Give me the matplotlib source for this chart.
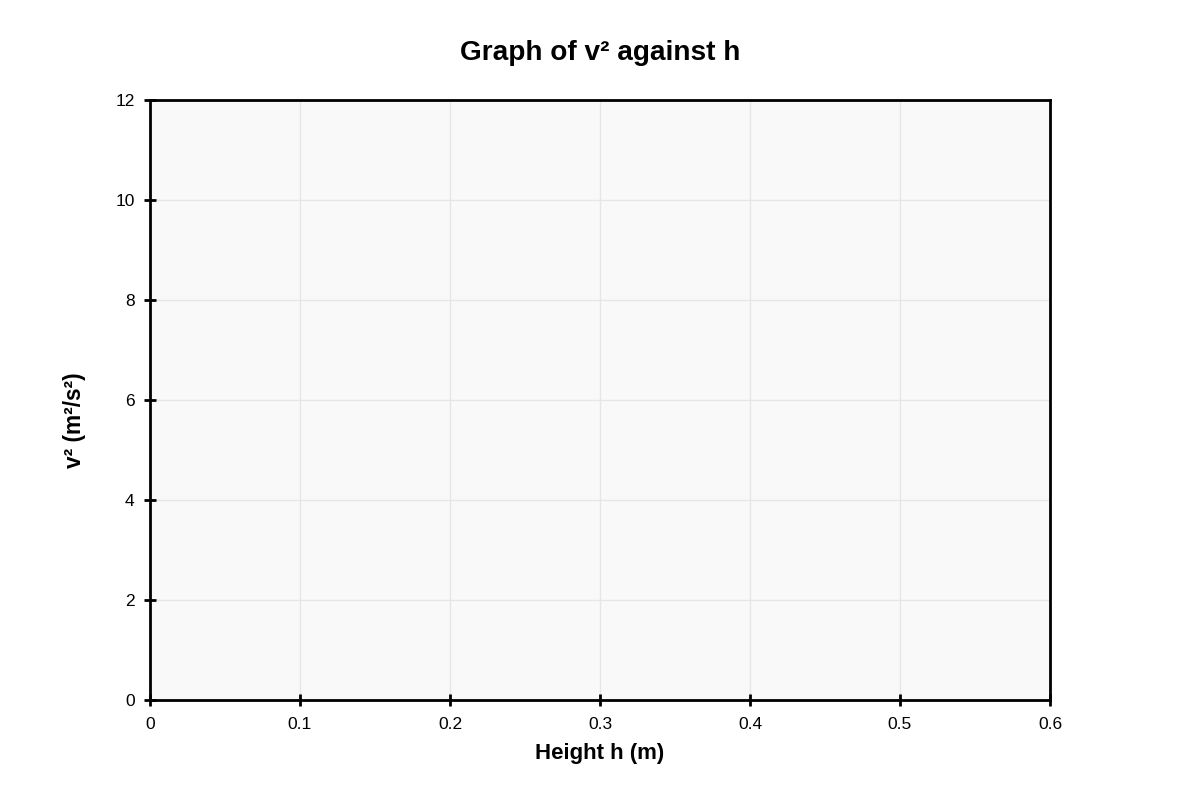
import matplotlib.pyplot as plt

# Axis setup (no data points are drawn in the reference)
x_ticks = [0, 0.1, 0.2, 0.3, 0.4, 0.5, 0.6]
x_tick_labels = ["0", "0.1", "0.2", "0.3", "0.4", "0.5", "0.6"]
y_ticks = [0, 2, 4, 6, 8, 10, 12]
y_tick_labels = ["0", "2", "4", "6", "8", "10", "12"]
heights = []
v_squared = []

plt.rcParams['font.family'] = ['Liberation Sans', 'DejaVu Sans']

fig = plt.figure(figsize=(12, 8), dpi=100)
ax = fig.add_axes([0.125, 0.125, 0.75, 0.75])
ax.set_facecolor("#f9f9f9")

ax.plot(heights, v_squared, 'o', color="#1f77b4")

ax.set_xlim(0, 0.6)
ax.set_ylim(0, 12)
ax.set_xticks(x_ticks)
ax.set_xticklabels(x_tick_labels)
ax.set_yticks(y_ticks)
ax.set_yticklabels(y_tick_labels)

ax.grid(True, color="#e6e6e6", linewidth=1)
ax.set_axisbelow(True)
for s in ax.spines.values():
    s.set_linewidth(2)
    s.set_color("black")
ax.tick_params(direction='inout', length=8, width=2, labelsize=12.5)
ax.tick_params(axis='x', pad=8)
ax.tick_params(axis='y', pad=7)

ax.set_title("Graph of v² against h", fontsize=20.2, fontweight='bold', pad=29)
ax.set_xlabel("Height h (m)", fontsize=16, fontweight='bold', labelpad=8)
ax.set_ylabel("v² (m²/s²)", fontsize=16.3, fontweight='bold', labelpad=21)
ax.yaxis.label.set_y(0.467)

fig.savefig("out.png", dpi=100, facecolor="white")
